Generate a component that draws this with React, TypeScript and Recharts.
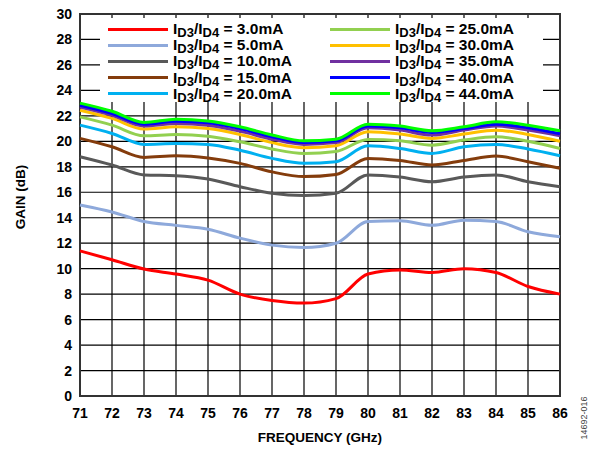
import React from 'react';
import { LineChart, Line, XAxis, YAxis, CartesianGrid, Legend, ReferenceArea } from 'recharts';

const freq = [71, 72, 73, 74, 75, 76, 77, 78, 79, 80, 81, 82, 83, 84, 85, 86];
const yTicks = [0, 2, 4, 6, 8, 10, 12, 14, 16, 18, 20, 22, 24, 26, 28, 30];

const g3 = [11.4, 10.7, 9.97, 9.58, 9.1, 8.0, 7.5, 7.3, 7.65, 9.58, 9.9, 9.7, 10.0, 9.7, 8.6, 8.0];
const g5 = [15.0, 14.45, 13.7, 13.4, 13.1, 12.4, 11.85, 11.66, 12.0, 13.7, 13.76, 13.4, 13.8, 13.7, 12.9, 12.5];
const g10 = [18.79, 18.14, 17.36, 17.3, 17.04, 16.44, 15.92, 15.74, 15.92, 17.36, 17.2, 16.83, 17.2, 17.36, 16.83, 16.44];
const g15 = [20.23, 19.57, 18.74, 18.87, 18.7, 18.27, 17.6, 17.23, 17.4, 18.66, 18.5, 18.14, 18.5, 18.84, 18.4, 17.88];
const g20 = [21.27, 20.62, 19.76, 19.83, 19.76, 19.3, 18.66, 18.27, 18.4, 19.65, 19.44, 19.05, 19.57, 19.76, 19.4, 18.87];
const g25 = [21.92, 21.27, 20.43, 20.54, 20.4, 19.96, 19.4, 19.05, 19.2, 20.15, 20.04, 19.7, 20.1, 20.36, 20.0, 19.44];
const g30 = [22.44, 21.8, 20.96, 21.14, 21.0, 20.54, 19.9, 19.5, 19.65, 20.75, 20.57, 20.23, 20.57, 20.88, 20.54, 20.0];
const g35 = [22.7, 22.05, 21.2, 21.4, 21.27, 20.8, 20.17, 19.76, 19.9, 21.06, 20.88, 20.49, 20.88, 21.2, 20.88, 20.43];
const g40 = [22.83, 22.18, 21.35, 21.58, 21.45, 21.0, 20.36, 19.9, 20.04, 21.2, 21.06, 20.7, 21.0, 21.35, 21.06, 20.6];
const g44 = [23.0, 22.36, 21.48, 21.74, 21.6, 21.14, 20.5, 20.04, 20.17, 21.35, 21.2, 20.83, 21.14, 21.53, 21.27, 20.83];

const seriesNames = ['3.0mA', '5.0mA', '10.0mA', '15.0mA', '20.0mA', '25.0mA', '30.0mA', '35.0mA', '40.0mA', '44.0mA'];
const seriesValues = [g3, g5, g10, g15, g20, g25, g30, g35, g40, g44];
const seriesColors = ['#FF0000', '#8EA9DB', '#595959', '#843C0C', '#00B0F0', '#92D050', '#FFC000', '#7030A0', '#0000FF', '#00FF00'];

const data = freq.map((f, i) => {
  const row: Record<string, number> = { freq: f };
  seriesNames.forEach((n, k) => {
    row['s' + k] = seriesValues[k][i];
  });
  return row;
});

const FONT = '"Liberation Sans", Arial, sans-serif';

const subStyle: React.CSSProperties = { fontSize: 13, verticalAlign: '-3px', lineHeight: 0 };

const LegendLabel = ({ name }: { name: string }) => (
  <span style={{ fontFamily: FONT, fontWeight: 'bold', fontSize: 15.5, color: '#000', whiteSpace: 'nowrap', lineHeight: '16px' }}>
    I<sub style={subStyle}>D3</sub>/I<sub style={subStyle}>D4</sub> = {name}
  </span>
);

const renderLegend = () => {
  const col = (start: number) => (
    <div style={{ position: 'absolute', left: start === 0 ? 8 : 230, top: 3 }}>
      {seriesNames.slice(start, start + 5).map((n, j) => (
        <div key={n} style={{ display: 'flex', alignItems: 'center', height: 16.2 }}>
          <div style={{ width: 60, height: 3, background: seriesColors[start + j], marginRight: 5 }} />
          <LegendLabel name={n} />
        </div>
      ))}
    </div>
  );
  return (
    <div style={{ position: 'relative', width: 443, height: 84, background: '#fff' }}>
      {col(0)}
      {col(5)}
    </div>
  );
};

export default function App() {
  return (
    <div style={{ position: 'absolute', left: 0, top: 0, width: 591, height: 449, background: '#fff' }}>
      <LineChart width={591} height={449} data={data} margin={{ top: 14, right: 31, bottom: 23, left: 40 }}>
        <CartesianGrid stroke="#000" strokeWidth={1.2} />
        <XAxis
          dataKey="freq"
          type="number"
          domain={[71, 86]}
          ticks={freq}
          interval={0}
          tickLine={false}
          axisLine={false}
          height={30}
          tickMargin={6}
          tick={{ fontFamily: FONT, fontWeight: 'bold', fontSize: 14, fill: '#000' }}
          label={() => (
            <text x={320} y={442} textAnchor="middle" style={{ fontFamily: FONT, fontWeight: 'bold', fontSize: 13.5, fill: '#000' }}>
              FREQUENCY (GHz)
            </text>
          )}
        />
        <YAxis
          type="number"
          domain={[0, 30]}
          ticks={yTicks}
          interval={0}
          tickLine={false}
          axisLine={false}
          width={40}
          tick={{ fontFamily: FONT, fontWeight: 'bold', fontSize: 14, fill: '#000' }}
          label={() => (
            <text x={25} y={197} transform="rotate(-90 25 197)" textAnchor="middle" style={{ fontFamily: FONT, fontWeight: 'bold', fontSize: 13.5, fill: '#000' }}>
              GAIN (dB)
            </text>
          )}
        />
        <ReferenceArea x1={71} x2={86} y1={0} y2={30} fill="none" stroke="#333" strokeWidth={2} ifOverflow="visible" />
        {seriesNames.map((n, k) => (
          <Line
            key={n}
            dataKey={'s' + k}
            type="monotone"
            stroke={seriesColors[k]}
            strokeWidth={3}
            dot={false}
            activeDot={false}
            isAnimationActive={false}
          />
        ))}
        <Legend
          layout="vertical"
          align="center"
          verticalAlign="middle"
          content={renderLegend}
          wrapperStyle={{ position: 'absolute', left: 100, top: 18, width: 443, height: 84 }}
        />
      </LineChart>
      <div
        style={{
          position: 'absolute',
          left: 584,
          top: 418,
          transform: 'translate(-50%, -50%) rotate(-90deg)',
          fontFamily: FONT,
          fontSize: 9,
          color: '#444',
          whiteSpace: 'nowrap',
        }}
      >
        14692-016
      </div>
    </div>
  );
}
